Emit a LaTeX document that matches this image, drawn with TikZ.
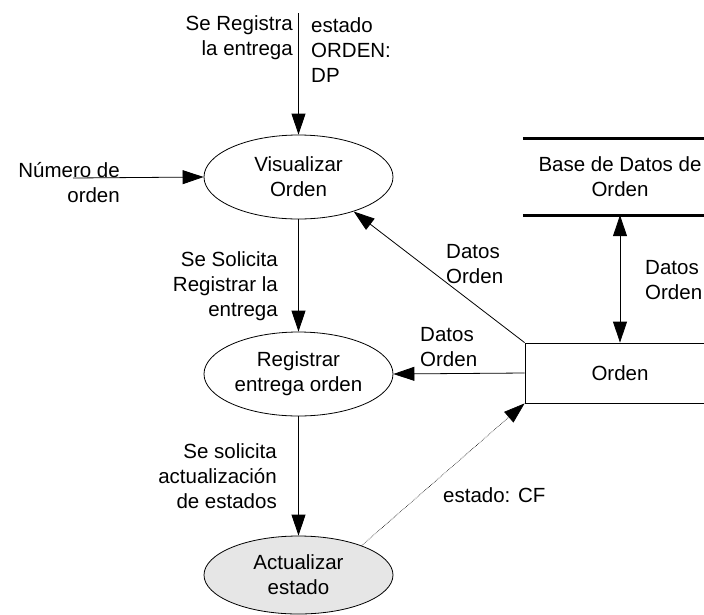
\documentclass[tikz,border=0pt]{standalone}
\usepackage{fontspec}
\setmainfont{Liberation Sans}
\usetikzlibrary{arrows.meta,shapes.geometric}
\tikzset{
  lbl/.style={inner sep=0pt, font=\fontsize{20.5}{25}\selectfont},
  proc/.style={ellipse, draw, line width=0.8pt, minimum width=189pt, minimum height=84pt, inner sep=0pt, align=center, font=\fontsize{20.5}{25}\selectfont},
  flow/.style={line width=0.8pt, -{Triangle[length=21pt,width=14pt]}},
  bflow/.style={line width=0.8pt, {Triangle[length=21pt,width=14pt]}-{Triangle[length=21pt,width=14pt]}},
  storeline/.style={line width=3pt}
}
\begin{document}
\begin{tikzpicture}[x=1pt,y=-1pt]
\useasboundingbox (0,0) rectangle (704,614);
\clip (0,0) rectangle (704,614);
% processes
\node[proc] (vis) at (298.5,177) {Visualizar\\Orden};
\node[proc] (reg) at (298.5,374) {Registrar\\entrega orden};
\node[proc, fill={rgb,255:red,230;green,230;blue,230}, minimum height=78pt] (act) at (298.5,575) {Actualizar\\estado};
% entity box
\node[draw, line width=0.8pt, minimum width=190pt, minimum height=60pt, inner sep=0pt, font=\fontsize{20.5}{25}\selectfont] (orden) at (620,373) {Orden};
% data store
\node[minimum width=194pt, minimum height=76pt, inner sep=0pt, align=center, font=\fontsize{20.5}{25}\selectfont] (db) at (620,177) {Base de Datos de\\Orden};
\draw[storeline] (db.north west) -- (db.north east);
\draw[storeline] (db.south west) -- (db.south east);
% free ends
\coordinate (topin) at (298.5,13);
\coordinate (numin) at (73,178);
% connectors
\draw[flow] (topin) -- (vis.north);
\draw[flow] (numin) -- (vis.west);
\draw[flow] (vis.south) -- (reg.north);
\draw[flow] (reg.south) -- (act.north);
\draw[flow] (orden.north west) -- (vis.-32);
\draw[flow] (orden.west) -- (reg.east);
\draw[bflow] (db.south) -- (orden.north);
\draw[line width=0.6pt, densely dotted, -{Triangle[length=21pt,width=14pt]}] (act.25) -- (orden.south west);
% labels
\node[lbl, anchor=east, align=right] (l1) at (293,37.5) {Se Registra\\la entrega};
\node[lbl, anchor=west, align=left] (l2) at (311,50) {estado\\ORDEN:\\DP};
\node[lbl, anchor=east, align=right] (l3) at (120,183) {Número de\\orden};
\node[lbl, anchor=east, align=right] (l4) at (278,286) {Se Solicita\\Registrar la\\entrega};
\node[lbl, anchor=east, align=right] (l5) at (277,476) {Se solicita\\actualización\\de estados};
\node[lbl, anchor=west, align=left] (l6) at (446,264.5) {Datos\\Orden};
\node[lbl, anchor=west, align=left] (l7) at (420,347) {Datos\\Orden};
\node[lbl, anchor=west, align=left] (l8) at (645,280.5) {Datos\\Orden};
\node[lbl, anchor=west] (l9) at (443,495) {estado: CF};
\end{tikzpicture}
\end{document}
